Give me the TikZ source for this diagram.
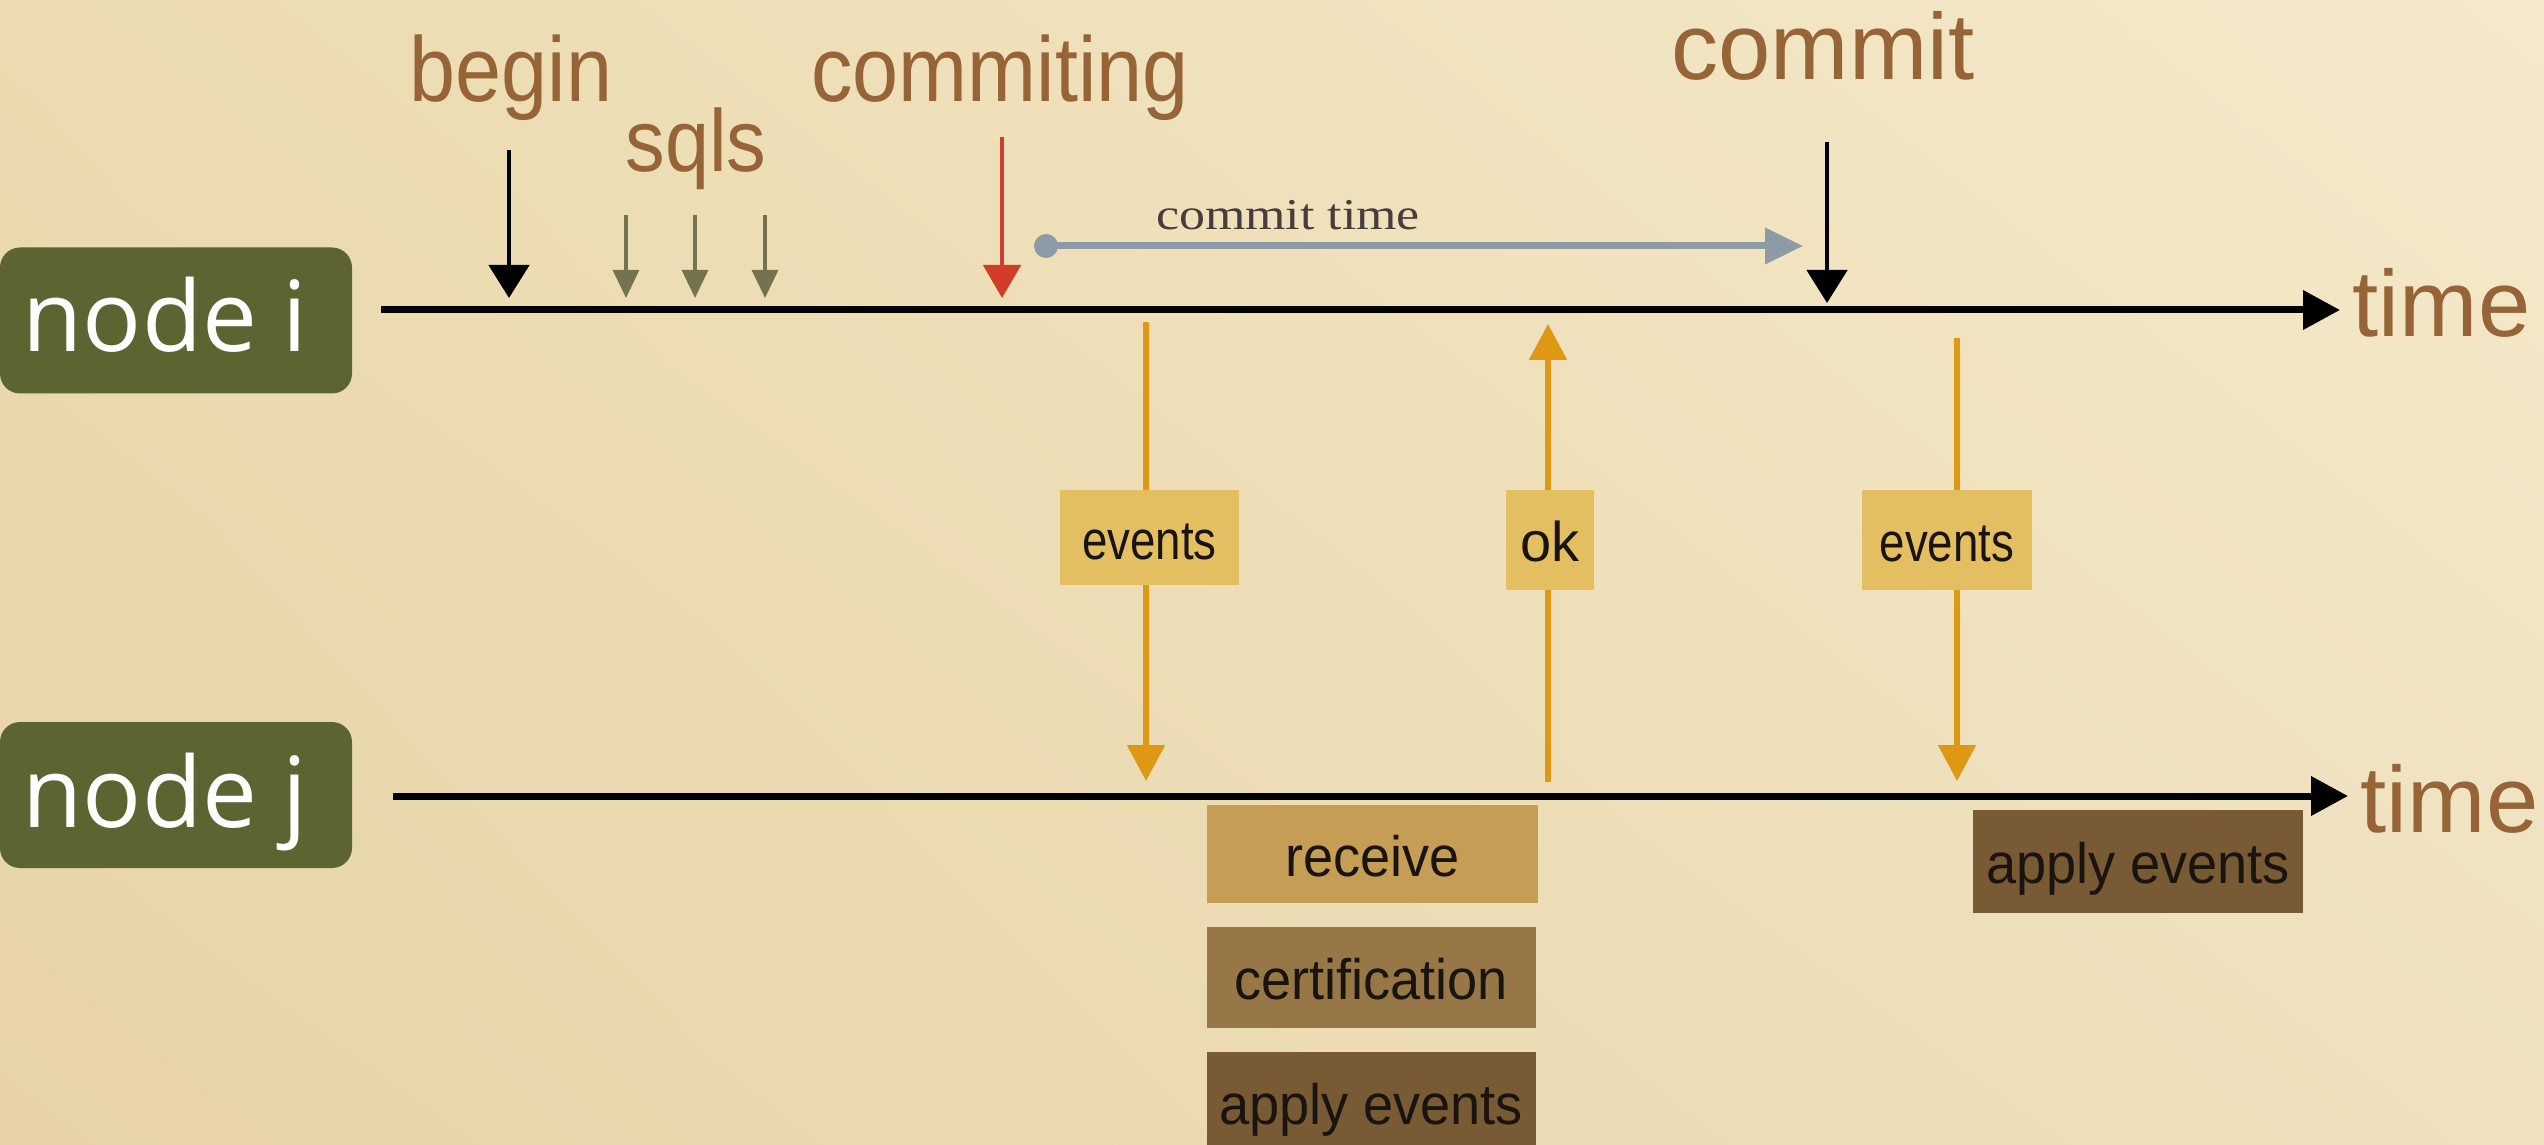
\documentclass[tikz,border=0pt]{standalone}
\usepackage{fontspec}
\setmainfont{Liberation Sans}
\newfontfamily\nodefont{Open Sans}
\newfontfamily\lblfont[FakeStretch=0.9]{Liberation Sans}
\newfontfamily\condfont[FakeStretch=0.83]{Liberation Sans}
\newfontfamily\procfont[FakeStretch=0.95]{Liberation Sans}
\newfontfamily\seriffont[FakeStretch=1.18]{Liberation Serif}
\usetikzlibrary{arrows.meta,shadings}
\definecolor{bgUL}{RGB}{236,219,176}
\definecolor{bgUR}{RGB}{244,233,202}
\definecolor{bgLL}{RGB}{231,211,166}
\definecolor{bgLR}{RGB}{239,225,190}
\definecolor{lblbrown}{RGB}{150,100,55}
\definecolor{olivebox}{RGB}{92,100,50}
\definecolor{sqlcol}{RGB}{115,115,80}
\definecolor{redcol}{RGB}{210,60,40}
\definecolor{greycol}{RGB}{140,155,165}
\definecolor{orangecol}{RGB}{222,152,20}
\definecolor{tagcol}{RGB}{227,191,98}
\definecolor{recvcol}{RGB}{197,157,84}
\definecolor{certcol}{RGB}{152,119,70}
\definecolor{applycol}{RGB}{120,90,52}
\definecolor{ctimecol}{RGB}{70,62,60}
\definecolor{boxtext}{RGB}{25,20,15}
\begin{document}
\begin{tikzpicture}[x=0.25pt,y=-0.25pt,
  lbl/.style={text=lblbrown,font=\lblfont\fontsize{23}{26}\selectfont,inner sep=0,anchor=base},
  biglbl/.style={text=lblbrown,font=\fontsize{23.5}{26}\selectfont,inner sep=0},
  nodebox/.style={fill=olivebox,rounded corners=5pt,minimum width=88pt,minimum height=36.5pt,inner sep=0},
  nodetext/.style={text=white,font=\nodefont\fontsize{24.5}{28}\selectfont,anchor=base west,inner sep=0},
  timeline/.style={line width=1.75pt,-{Triangle[length=9.25pt,width=9.5pt]}},
  blackarr/.style={line width=1.2pt,-{Triangle[length=8.25pt,width=10pt]}},
  sqlarr/.style={sqlcol,line width=0.8pt,-{Triangle[length=7pt,width=6.5pt]}},
  redarr/.style={redcol,line width=1.2pt,-{Triangle[length=8.25pt,width=9.25pt]}},
  msgarr/.style={orangecol,line width=1.3pt,-{Triangle[length=9pt,width=9.25pt]}},
  tag/.style={fill=tagcol,inner sep=0,text=boxtext,font=\condfont\fontsize{13.75}{15}\selectfont,text height=10.75pt,text depth=0pt},
  proc/.style={inner sep=0,text=boxtext,font=\procfont\fontsize{14.25}{16}\selectfont,text height=11pt,text depth=0pt}]
\useasboundingbox (0,0) rectangle (2544,1144);
\shade[upper left=bgUL,upper right=bgUR,lower left=bgLL,lower right=bgLR] (0,0) rectangle (2544,1144);
\begin{scope}
\clip (0,0) rectangle (2544,1144);
% node labels
\node[nodebox] (nibox) at (176,320.5) {};
\node[nodetext] (nitext) at (22,352) {node i};
\node[nodebox] (njbox) at (176,795) {};
\node[nodetext] (njtext) at (22,827) {node j};
% timelines
\node[biglbl,anchor=base west] (timei) at (2352,337) {time};
\node[biglbl,anchor=base west] (timej) at (2360,832) {time};
\coordinate (ti0) at (381,310);
\coordinate (ti1) at (2340,310);
\coordinate (tj0) at (393,796);
\coordinate (tj1) at (2348,796);
\draw[timeline] (ti0) -- (ti1);
\draw[timeline] (tj0) -- (tj1);
% top labels
\node[lbl] (begin) at (511,102) {begin};
\node[lbl,font=\lblfont\fontsize{22}{24}\selectfont] (sqls) at (696,172) {sqls};
\node[lbl] (commiting) at (1000,102) {commiting};
\node[biglbl,anchor=base] (commit) at (1823,80) {commit};
\node[inner sep=0,anchor=base,text=ctimecol,font=\seriffont\fontsize{11}{13}\selectfont] (ctime) at (1288,230) {commit time};
% event arrows on node i
\coordinate (b0) at (509,150); \coordinate (b1) at (509,298);
\draw[blackarr] (b0) -- (b1);
\coordinate (s10) at (626,215); \coordinate (s11) at (626,298);
\coordinate (s20) at (695,215); \coordinate (s21) at (695,298);
\coordinate (s30) at (765,215); \coordinate (s31) at (765,298);
\draw[sqlarr] (s10) -- (s11);
\draw[sqlarr] (s20) -- (s21);
\draw[sqlarr] (s30) -- (s31);
\coordinate (r0) at (1002,137); \coordinate (r1) at (1002,298);
\draw[redarr] (r0) -- (r1);
\coordinate (c0) at (1827,142); \coordinate (c1) at (1827,303);
\draw[blackarr] (c0) -- (c1);
% commit time arrow
\coordinate (ct0) at (1046,246); \coordinate (ct1) at (1803,246);
\draw[greycol,line width=1.75pt,-{Triangle[length=9.5pt,width=8.75pt]}] (ct0) -- (ct1);
\fill[greycol] (ct0) circle[radius=3pt];
% messages
\coordinate (e1a) at (1146,322); \coordinate (e1b) at (1146,781);
\draw[msgarr] (e1a) -- (e1b);
\node[tag,minimum width=44.75pt,minimum height=23.75pt] (ev1) at (1149.5,537.5) {events};
\coordinate (oka) at (1548,782); \coordinate (okb) at (1548,324);
\draw[msgarr] (oka) -- (okb);
\node[tag,font=\fontsize{14}{15}\selectfont,minimum width=22pt,minimum height=25pt] (ok) at (1550,540) {ok};
\coordinate (e2a) at (1957,338); \coordinate (e2b) at (1957,781);
\draw[msgarr] (e2a) -- (e2b);
\node[tag,minimum width=42.5pt,minimum height=25pt] (ev2) at (1947,540) {events};
% processing on node j
\node[proc,fill=recvcol,minimum width=82.75pt,minimum height=24.5pt] (recv) at (1372.5,854) {receive};
\node[proc,fill=certcol,minimum width=82.25pt,minimum height=25.25pt] (cert) at (1371,977.5) {certification};
\node[proc,fill=applycol,minimum width=82.25pt,minimum height=25.25pt] (apply1) at (1371,1102.5) {apply events};
\node[proc,fill=applycol,minimum width=82.5pt,minimum height=25.75pt] (apply2) at (2138,861.5) {apply events};
\end{scope}
\end{tikzpicture}
\end{document}
